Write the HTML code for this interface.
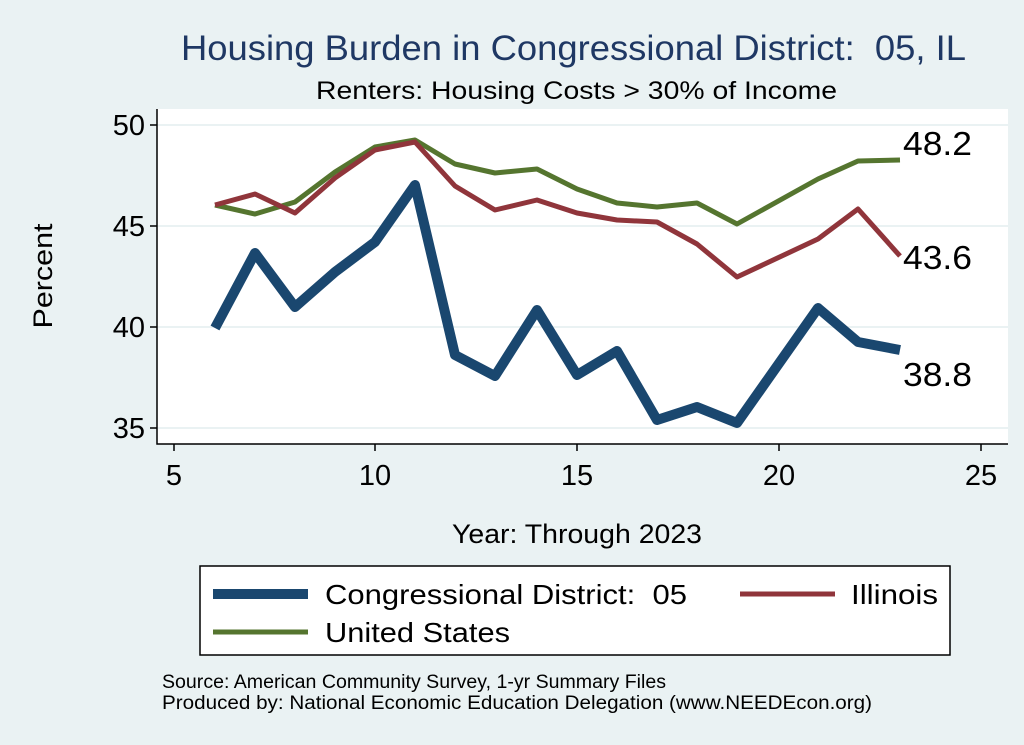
<!DOCTYPE html>
<html><head><meta charset="utf-8"><style>
html,body{margin:0;padding:0;background:#eaf2f3;}
svg{display:block;font-family:"Liberation Sans",Arial,sans-serif;}
</style></head><body>
<svg width="1024" height="745" viewBox="0 0 1024 745">
<rect width="1024" height="745" fill="#eaf2f3"/>
<rect x="157" y="109" width="851" height="335" fill="#fff"/>
<g stroke="#eaf2f3" stroke-width="2">
<line x1="157" y1="125" x2="1008" y2="125"/>
<line x1="157" y1="226" x2="1008" y2="226"/>
<line x1="157" y1="327" x2="1008" y2="327"/>
<line x1="157" y1="428" x2="1008" y2="428"/>
</g>
<g stroke="#000" stroke-width="1.5" fill="none">
<polyline points="157,109 157,444 1008,444"/>
<line x1="150" y1="125" x2="157" y2="125"/><line x1="150" y1="226" x2="157" y2="226"/>
<line x1="150" y1="327" x2="157" y2="327"/><line x1="150" y1="428" x2="157" y2="428"/>
<line x1="174" y1="444" x2="174" y2="451"/><line x1="375" y1="444" x2="375" y2="451"/>
<line x1="577" y1="444" x2="577" y2="451"/><line x1="779" y1="444" x2="779" y2="451"/>
<line x1="981" y1="444" x2="981" y2="451"/>
</g>
<g font-size="29" text-anchor="end" fill="#000">
<text x="145" y="135">50</text><text x="145" y="236">45</text><text x="145" y="337">40</text><text x="145" y="438">35</text>
</g>
<g font-size="29" text-anchor="middle" fill="#000">
<text x="174" y="485">5</text><text x="375" y="485">10</text><text x="577" y="485">15</text><text x="779" y="485">20</text><text x="981" y="485">25</text>
</g>
<text x="52" y="276" font-size="27" text-anchor="middle" transform="rotate(-90 52 276)" textLength="105" lengthAdjust="spacingAndGlyphs">Percent</text>
<text x="452" y="543" font-size="27" textLength="250" lengthAdjust="spacingAndGlyphs">Year: Through 2023</text>
<text x="181" y="60" font-size="35" fill="#1f3864" textLength="785" lengthAdjust="spacingAndGlyphs" xml:space="preserve">Housing Burden in Congressional District:  05, IL</text>
<text x="316" y="99" font-size="25" textLength="521" lengthAdjust="spacingAndGlyphs">Renters: Housing Costs &gt; 30% of Income</text>
<g fill="none" stroke-linejoin="round">
<polyline stroke="#55752f" stroke-width="5" points="215,205 255,214 295,202 335,172 375,147 415,140 455,164 495,173 537,169 577,189 617,203 657,207 697,203 737,224 818,179 858,161 900,160"/>
<polyline stroke="#90353b" stroke-width="5" points="215,205 255,194 295,213 335,178 375,150 415,142 455,186 495,210 537,200 577,213 617,220 657,222 697,244 737,277 818,239 858,209 900,256"/>
<polyline stroke="#1a476f" stroke-width="10" points="215,328 255,253 295,307 335,272 375,242 415,185 455,355 495,376 537,310 577,375 617,351 657,420 697,407 737,423 818,308 858,342 900,350"/>
</g>
<g font-size="33" fill="#000">
<text x="903" y="155" textLength="69" lengthAdjust="spacingAndGlyphs">48.2</text>
<text x="903" y="269" textLength="69" lengthAdjust="spacingAndGlyphs">43.6</text>
<text x="903" y="386" textLength="69" lengthAdjust="spacingAndGlyphs">38.8</text>
</g>
<rect x="200" y="566" width="750" height="89" fill="#fff" stroke="#000" stroke-width="1.5"/>
<line x1="213" y1="594" x2="308" y2="594" stroke="#1a476f" stroke-width="10"/>
<text x="325" y="604" font-size="28" textLength="362" lengthAdjust="spacingAndGlyphs" xml:space="preserve">Congressional District:  05</text>
<line x1="740" y1="594" x2="835" y2="594" stroke="#90353b" stroke-width="5"/>
<text x="851" y="604" font-size="28" textLength="87" lengthAdjust="spacingAndGlyphs">Illinois</text>
<line x1="213" y1="632" x2="308" y2="632" stroke="#55752f" stroke-width="5"/>
<text x="325" y="642" font-size="28" textLength="185" lengthAdjust="spacingAndGlyphs">United States</text>
<text x="162" y="688" font-size="19" textLength="504" lengthAdjust="spacingAndGlyphs">Source: American Community Survey, 1-yr Summary Files</text>
<text x="162" y="709" font-size="19" textLength="710" lengthAdjust="spacingAndGlyphs">Produced by: National Economic Education Delegation (www.NEEDEcon.org)</text>
</svg>
</body></html>
